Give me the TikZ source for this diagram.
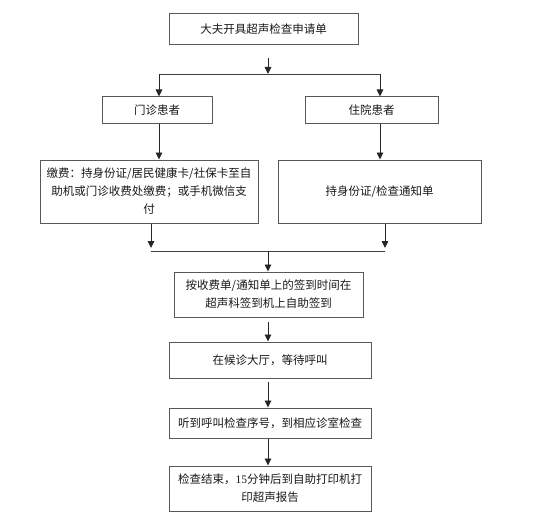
\documentclass[tikz,border=0pt]{standalone}
\usepackage{fontspec}
\newfontfamily\cjk{Noto Sans CJK SC}
\newfontfamily\serifnum{Liberation Serif}
\usetikzlibrary{arrows.meta}
\tikzset{
  box/.style={draw=black!65, line width=1pt, fill=white, align=center, inner sep=2pt,
    font=\cjk\fontsize{11.5}{18}\selectfont, text=black!90},
  arr/.style={draw=black!85, line width=0.9pt, -{Triangle[width=6.5pt,length=7pt]}},
  ln/.style={draw=black!75, line width=0.9pt}
}
\begin{document}
\begin{tikzpicture}[x=1pt,y=-1pt]
\useasboundingbox[fill=white] (0,0) rectangle (554,532);
\node[box, minimum width=189pt, minimum height=31pt] (b1) at (263.5,29.5) {大夫开具超声检查申请单};
\node[box, minimum width=110pt, minimum height=27pt] (b2) at (157,110.5) {门诊患者};
\node[box, minimum width=133pt, minimum height=27pt] (b3) at (371.5,110.5) {住院患者};
\node[box, minimum width=218pt, minimum height=63pt, text width=208pt] (b4) at (149,191.5)
  {缴费：持身份证/居民健康卡/社保卡至自\\助机或门诊收费处缴费；或手机微信支\\付};
\node[box, minimum width=203pt, minimum height=63pt] (b5) at (379.5,191.5) {持身份证/检查通知单};
\node[box, minimum width=189pt, minimum height=45pt] (b6) at (268.5,294.5)
  {按收费单/通知单上的签到时间在\\超声科签到机上自助签到};
\node[box, minimum width=202pt, minimum height=36pt] (b7) at (270,360) {在候诊大厅，等待呼叫};
\node[box, minimum width=202pt, minimum height=30pt] (b8) at (270,423) {听到呼叫检查序号，到相应诊室检查};
\node[box, minimum width=202pt, minimum height=45pt] (b9) at (270,488.5)
  {检查结束，{\serifnum 15}分钟后到自助打印机打\\印超声报告};
% top split
\coordinate (t0) at (268,58);
\coordinate (t1) at (268,74);
\coordinate (jl) at (159,74);
\coordinate (jr) at (380,74);
\draw[arr] (t0) -- (t1);
\draw[ln] (jl) -- (jr);
\draw[arr] (jl) -- (jl |- b2.north);
\draw[arr] (jr) -- (jr |- b3.north);
\draw[arr] (jl |- b2.south) -- (jl |- b4.north);
\draw[arr] (jr |- b3.south) -- (jr |- b5.north);
% merge
\coordinate (ml) at (151,248);
\coordinate (mr) at (385,248);
\coordinate (hl) at (151,251);
\coordinate (hr) at (385,251);
\coordinate (hm) at (268,251);
\draw[arr] (ml |- b4.south) -- (ml);
\draw[arr] (mr |- b5.south) -- (mr);
\draw[ln] (hl) -- (hr);
\draw[arr] (hm) -- (hm |- b6.north);
% chain
\coordinate (c1) at (268,322);
\draw[arr] (c1) -- (c1 |- b7.north);
\coordinate (c2) at (268,382);
\draw[arr] (c2) -- (c2 |- b8.north);
\draw[arr] (c2 |- b8.south) -- (c2 |- b9.north);
\end{tikzpicture}
\end{document}
